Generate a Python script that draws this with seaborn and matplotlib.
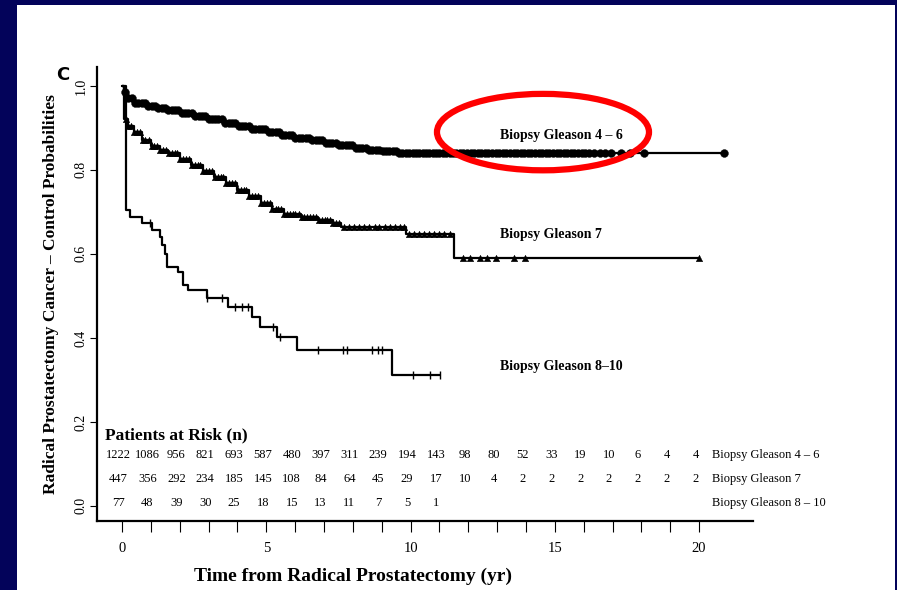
import numpy as np
import pandas as pd
import matplotlib
matplotlib.use("Agg")
import matplotlib.pyplot as plt
from matplotlib.patches import Ellipse, Rectangle
import seaborn as sns

# Kaplan-Meier step curves (time in years, probability)
t_46 = [0, 0.08, 0.2, 0.4, 0.8, 1.2, 1.6, 2.0, 2.5, 3.0, 3.5, 4.0, 4.5, 5.0, 5.5,
        6.0, 6.5, 7.0, 7.5, 8.0, 8.5, 9.0, 9.5, 20.85]
s_46 = [1.0, 0.985, 0.97, 0.96, 0.953, 0.947, 0.942, 0.936, 0.928, 0.92, 0.912, 0.905,
        0.897, 0.89, 0.884, 0.877, 0.871, 0.865, 0.859, 0.853, 0.848, 0.844, 0.840, 0.840]

t_7 = [0, 0.05, 0.2, 0.4, 0.7, 1.0, 1.3, 1.6, 2.0, 2.4, 2.8, 3.2, 3.6, 4.0, 4.4, 4.8,
       5.2, 5.6, 6.2, 6.8, 7.3, 7.6, 9.85, 11.5, 20.0]
s_7 = [1.0, 0.92, 0.905, 0.89, 0.87, 0.856, 0.848, 0.84, 0.826, 0.812, 0.797, 0.782,
       0.768, 0.752, 0.738, 0.722, 0.708, 0.695, 0.688, 0.681, 0.674, 0.664, 0.648,
       0.590, 0.590]

t_810 = [0, 0.12, 0.28, 0.69, 1.04, 1.32, 1.4, 1.48, 1.56, 1.94, 2.11, 2.29, 2.95,
         3.67, 4.5, 4.78, 5.37, 6.07, 9.36, 11.02]
s_810 = [1.0, 0.705, 0.688, 0.674, 0.657, 0.64, 0.62, 0.60, 0.569, 0.557, 0.526, 0.514,
         0.495, 0.474, 0.45, 0.426, 0.402, 0.371, 0.312, 0.312]

# censoring times
cens_46 = [0.10, 0.21, 0.33, 0.44, 0.56, 0.68, 0.79, 0.91, 1.02, 1.14, 1.26, 1.37, 1.49,
           1.60, 1.72, 1.84, 1.95, 2.07, 2.18, 2.30, 2.42, 2.53, 2.65, 2.76, 2.88, 3.00,
           3.11, 3.23, 3.34, 3.46, 3.58, 3.69, 3.81, 3.92, 4.04, 4.16, 4.27, 4.39, 4.50,
           4.62, 4.74, 4.85, 4.97, 5.08, 5.20, 5.32, 5.43, 5.55, 5.66, 5.78, 5.90, 6.01,
           6.13, 6.24, 6.36, 6.48, 6.59, 6.71, 6.82, 6.94, 7.06, 7.17, 7.29, 7.40, 7.52,
           7.64, 7.75, 7.87, 7.98, 8.10, 8.22, 8.33, 8.45, 8.56, 8.68, 8.80, 8.91, 9.03,
           9.14, 9.26, 9.38, 9.49, 9.61, 9.72, 9.84, 9.96, 10.07, 10.19, 10.30, 10.42,
           10.54, 10.65, 10.77, 10.88, 11.00, 11.12, 11.23, 11.35, 11.46, 11.58, 11.71,
           11.83, 11.95, 12.08, 12.2, 12.33, 12.45, 12.57, 12.7, 12.82, 12.95, 13.07,
           13.2, 13.32, 13.44, 13.57, 13.69, 13.82, 13.94, 14.06, 14.19, 14.31, 14.44,
           14.56, 14.69, 14.81, 14.93, 15.06, 15.18, 15.31, 15.43, 15.55, 15.68, 15.8,
           15.93, 16.05, 16.2, 16.35, 16.55, 16.75, 16.95, 17.3, 17.6, 18.1, 20.85]
cens_7 = [0.12, 0.22, 0.31, 0.41, 0.52, 0.62, 0.71, 0.81, 0.92, 1.02, 1.11, 1.21, 1.32,
          1.42, 1.51, 1.61, 1.72, 1.82, 1.91, 2.01, 2.12, 2.22, 2.31, 2.41, 2.52, 2.62,
          2.71, 2.81, 2.92, 3.02, 3.11, 3.21, 3.32, 3.42, 3.51, 3.61, 3.72, 3.82, 3.91,
          4.01, 4.12, 4.22, 4.31, 4.41, 4.52, 4.62, 4.71, 4.81, 4.92, 5.02, 5.11, 5.21,
          5.32, 5.42, 5.51, 5.61, 5.72, 5.82, 5.91, 6.01, 6.12, 6.22, 6.31, 6.41, 6.52,
          6.62, 6.71, 6.81, 6.92, 7.02, 7.11, 7.21, 7.32, 7.42, 7.51, 7.7, 7.88, 8.05,
          8.22, 8.4, 8.57, 8.75, 8.92, 9.1, 9.27, 9.45, 9.62, 9.78, 9.95, 10.12, 10.3,
          10.47, 10.65, 10.82, 11.0, 11.17, 11.35, 11.8, 12.05, 12.4, 12.65, 12.95,
          13.6, 13.95, 20.0]
cens_810 = [0.97, 2.95, 3.47, 3.92, 4.16, 4.37, 5.23, 5.48, 6.79, 7.65, 7.8, 8.67,
            8.87, 9.01, 10.09, 10.68, 11.02]

# patients at risk
years = list(range(21))
risk_46 = [1222, 1086, 956, 821, 693, 587, 480, 397, 311, 239, 194, 143, 98, 80, 52,
           33, 19, 10, 6, 4, 4]
risk_7 = [447, 356, 292, 234, 185, 145, 108, 84, 64, 45, 29, 17, 10, 4, 2, 2, 2, 2,
          2, 2, 2]
risk_810 = [77, 48, 39, 30, 25, 18, 15, 13, 11, 7, 5, 1]

groups = ["Biopsy Gleason 4 \u2013 6", "Biopsy Gleason 7", "Biopsy Gleason 8 \u2013 10"]
curve_labels = ["Biopsy Gleason 4 \u2013 6", "Biopsy Gleason 7", "Biopsy Gleason 8\u201310"]


def at(t, s, c):
    idx = np.searchsorted(t, c, side="right") - 1
    return np.asarray(s)[idx]


sns.set_style("white")
plt.rcParams["font.family"] = ["Liberation Serif", "DejaVu Serif"]
plt.rcParams.update({"text.color": "black", "axes.labelcolor": "black",
                     "xtick.color": "black", "ytick.color": "black"})

navy = "#03035a"
fig = plt.figure(figsize=(8.97, 5.9), dpi=100, facecolor=navy)
fig.patches.append(Rectangle((17 / 897, 0), 878 / 897, 585 / 590, transform=fig.transFigure,
                             facecolor="white", edgecolor="none", zorder=-5))
ax = fig.add_axes([97 / 897, 1 - 521 / 590, 656 / 897, 454 / 590])
ax.set_facecolor("white")

curves = [(t_46, s_46, cens_46, "o", 32), (t_7, s_7, cens_7, "^", 22),
          (t_810, s_810, cens_810, "|", 30)]
for (t, s, c, m, ms) in curves:
    sns.lineplot(x=t, y=s, ax=ax, color="black", linewidth=1.6, drawstyle="steps-post",
                 estimator=None, sort=False)
    cy = at(t, s, c)
    if m == "|":
        sns.scatterplot(x=c, y=cy, ax=ax, marker="|", s=ms, color="black", linewidth=1.0)
    else:
        sns.scatterplot(x=c, y=cy, ax=ax, marker=m, s=ms, color="black", edgecolor="black",
                        linewidth=0.3, zorder=3)

ax.set_xlim(-0.87, 21.87)
ax.set_ylim(-0.036, 1.045)
sns.despine(ax=ax)
for side in ["left", "bottom"]:
    ax.spines[side].set_linewidth(1.6)
    ax.spines[side].set_color("black")

ax.set_xticks([0, 5, 10, 15, 20])
ax.set_xticks(years, minor=True)
ax.tick_params(axis="x", which="both", direction="out", length=8, width=0.8, labelsize=10.5,
               pad=7, bottom=True)
ax.set_yticks([0.0, 0.2, 0.4, 0.6, 0.8, 1.0])
ax.set_yticklabels(["0.0", "0.2", "0.4", "0.6", "0.8", "1.0"], rotation=90, va="center")
ax.tick_params(axis="y", direction="out", length=5, width=0.8, labelsize=10, pad=2, left=True)

ax.set_xlabel("Time from Radical Prostatectomy (yr)", fontsize=14, fontweight="bold")
ax.xaxis.set_label_coords(0.39, -0.102)
ax.set_ylabel("Radical Prostatectomy Cancer \u2013 Control Probabilities", fontsize=12.5,
              fontweight="bold")
ax.yaxis.set_label_coords(-0.058, 0.5)

fig.text(63 / 897, 1 - 75 / 590, "C", family="DejaVu Sans", fontweight="bold", fontsize=13,
         ha="center", va="center")

# curve labels
for lab, y in zip(curve_labels, [0.881, 0.645, 0.333]):
    ax.text(13.1, y, lab, fontsize=10, fontweight="bold", ha="left", va="center")

# patients at risk table
ax.text(-0.59, 0.169, "Patients at Risk (n)", fontsize=12.5, fontweight="bold",
        ha="left", va="center")
for risk, y, g in zip([risk_46, risk_7, risk_810], [0.121, 0.064, 0.007], groups):
    for yr, n in zip(years, risk):
        ax.text(yr - 0.12, y, str(n), fontsize=9, ha="center", va="center")
    ax.text(20.45, y, g, fontsize=9, ha="left", va="center")

ax.add_patch(Ellipse((14.59, 0.890), 7.35, 0.182, fill=False, edgecolor="#ff0000",
                     linewidth=4.5, zorder=10, clip_on=False))

fig.savefig("out.png", dpi=100, facecolor=navy)
